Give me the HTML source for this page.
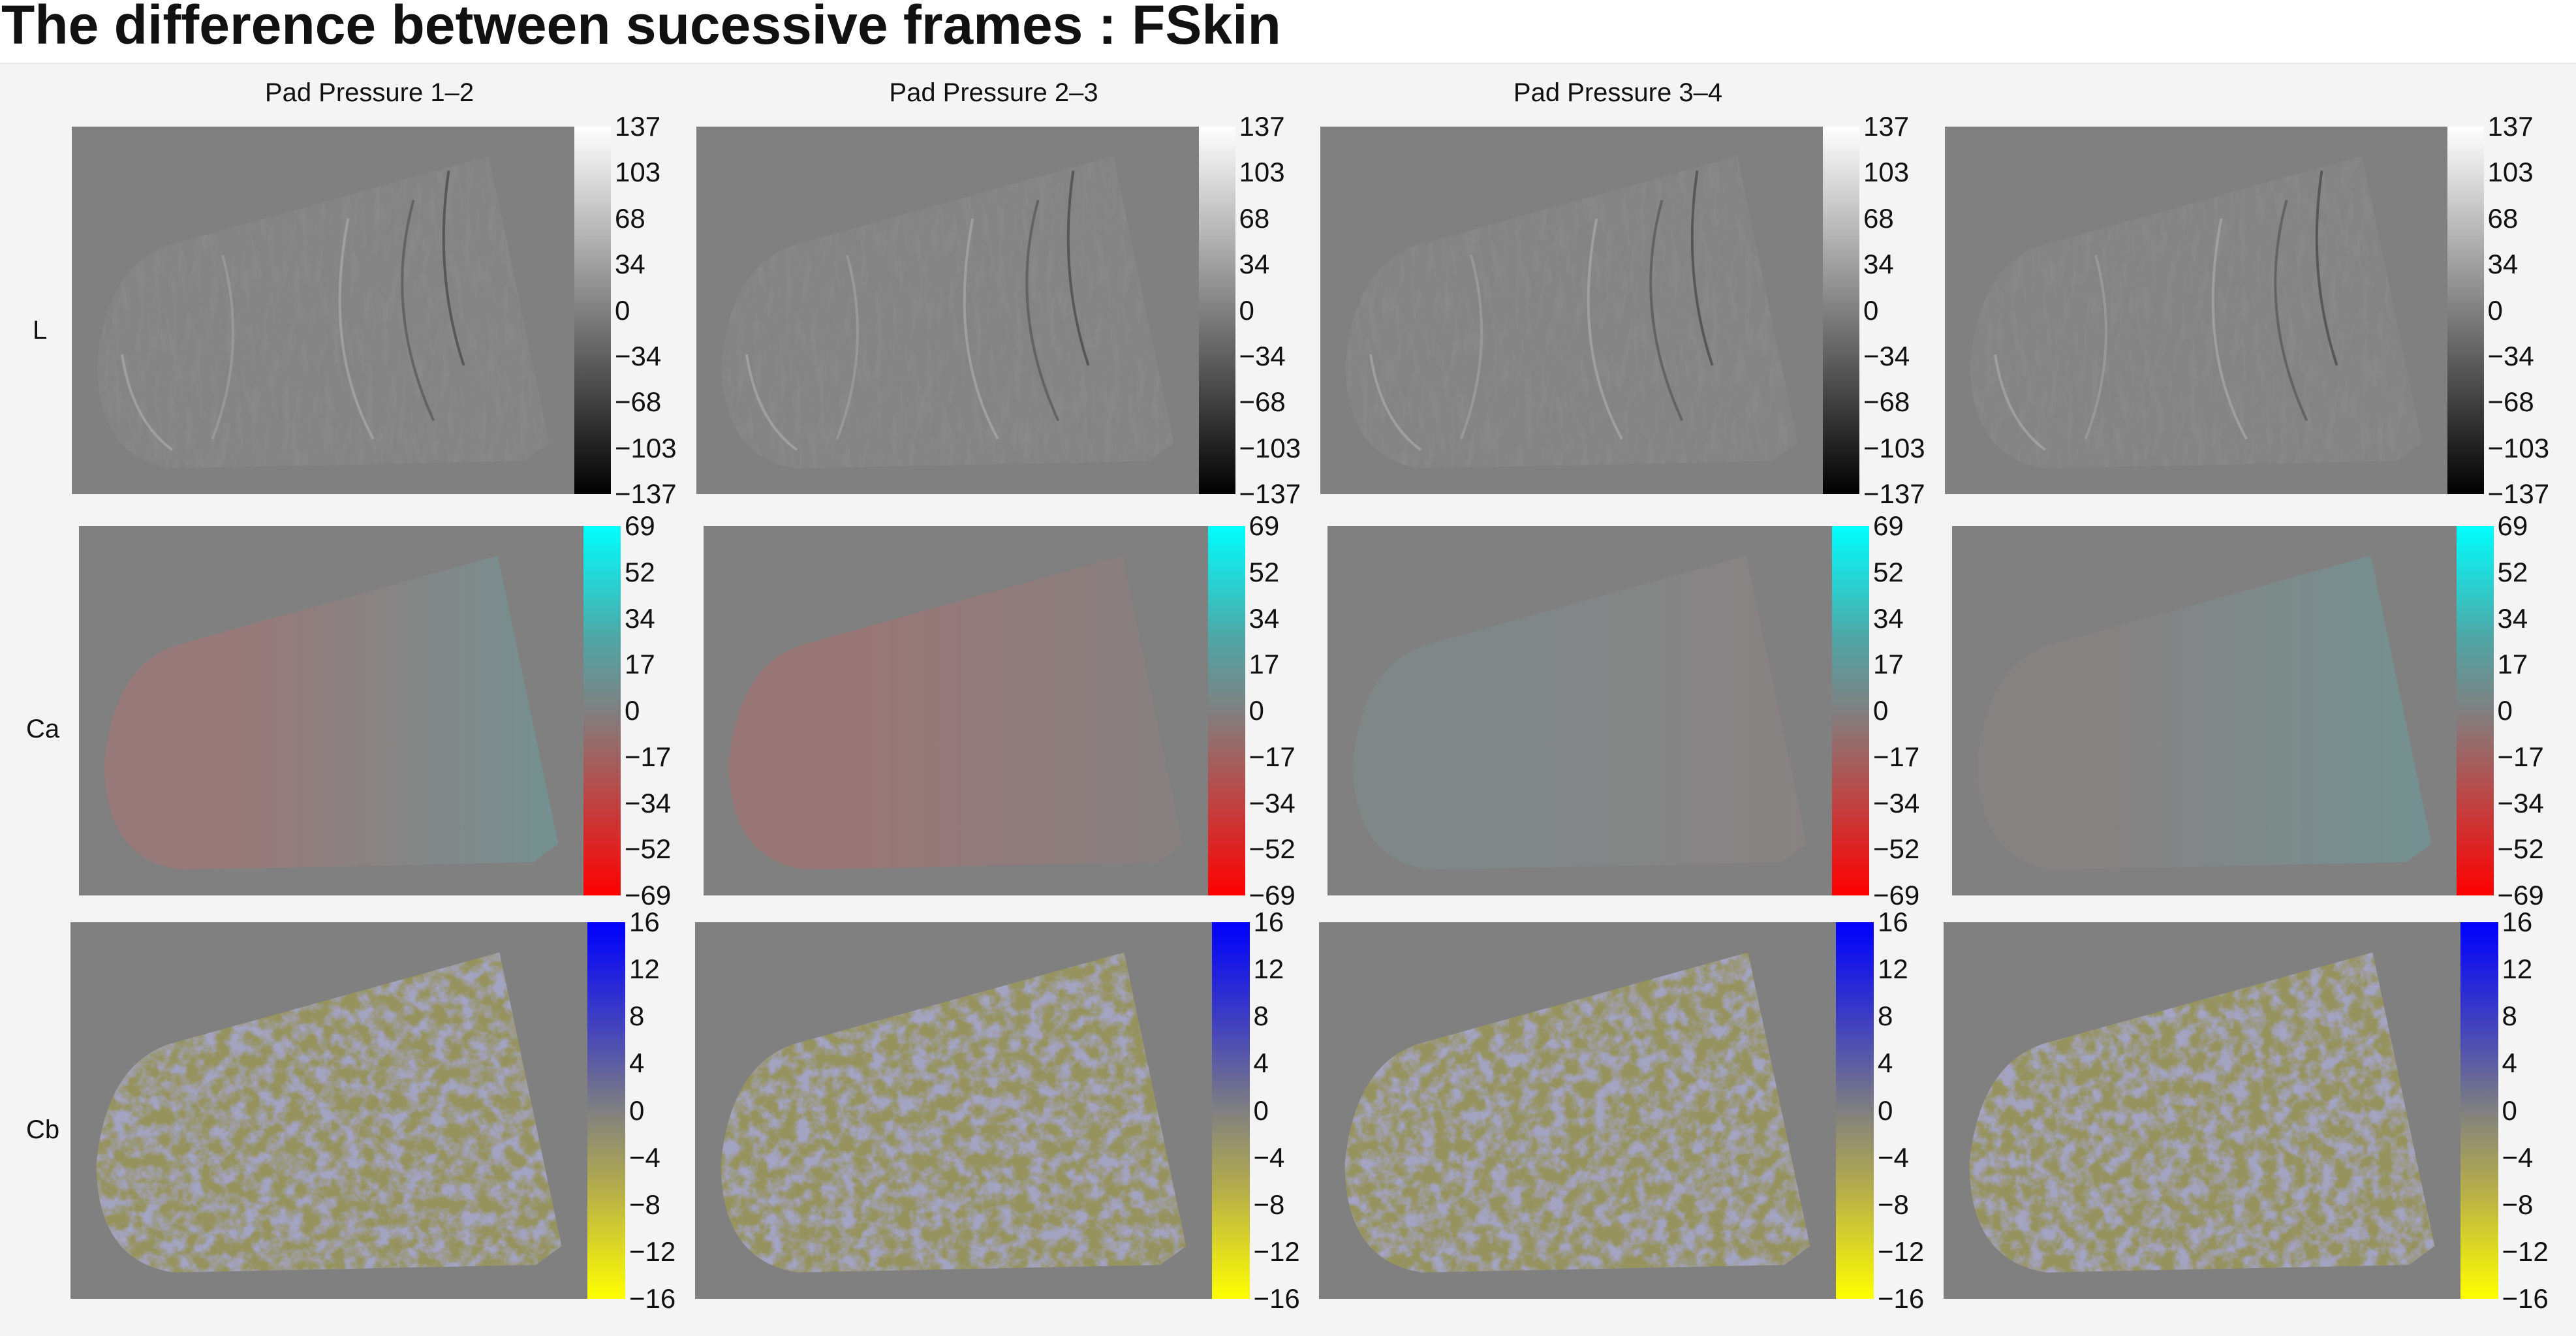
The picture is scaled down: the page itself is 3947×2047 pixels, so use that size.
<!DOCTYPE html>
<html><head><meta charset="utf-8">
<style>
html,body{margin:0;padding:0;}
body{width:3947px;height:2045px;position:relative;background:#fff;overflow:hidden;font-family:"Liberation Sans",sans-serif;}
#title{position:absolute;left:2px;top:-10px;font-size:84px;font-weight:bold;color:#111;white-space:nowrap;}
#bg{position:absolute;left:0;top:96px;width:3947px;height:1949px;background:#f4f4f4;border-top:2px solid #e8e8e8;}
.ct{position:absolute;font-size:40px;color:#111;transform:translateX(-50%);white-space:nowrap;}
.rl{position:absolute;font-size:40px;color:#111;}
.tk{position:absolute;font-size:42px;color:#111;line-height:42px;white-space:nowrap;}
svg{position:absolute;}
.cb{position:absolute;}
</style></head>
<body>
<div id="title">The difference between sucessive frames : FSkin</div>
<div id="bg"></div>
<div id="root"></div>
<script>
const colTitles = ["Pad Pressure 1\u20132","Pad Pressure 2\u20133","Pad Pressure 3\u20134",""];
const rowLabels = ["L","Ca","Cb"];
const ticksL = ["137","103","68","34","0","\u221234","\u221268","\u2212103","\u2212137"];
const ticksCa = ["69","52","34","17","0","\u221217","\u221234","\u221252","\u221269"];
const ticksCb = ["16","12","8","4","0","\u22124","\u22128","\u221212","\u221216"];

const root = document.getElementById('root');
const pitch = 956.5;
const rows = [
  {top:194,bot:757,left:110,right:880,cbw:56,ticks:ticksL,grad:"linear-gradient(#fff,#808080,#000)",ly:506},
  {top:806,bot:1372,left:121,right:894,cbw:57,ticks:ticksCa,grad:"linear-gradient(#00ffff,#4fa6a6 30%,#808080 50%,#b84a4a 72%,#ff0000)",ly:1117},
  {top:1413,bot:1990,left:108,right:900,cbw:58,ticks:ticksCb,grad:"linear-gradient(#0000ff,#4848b8 30%,#808080 50%,#b8b048 72%,#ffff00)",ly:1731}
];
const caGrad = [["#a87474","#6c9c9c"],["#a87070","#8a8080"],["#7f8c8c","#8f8484"],["#8a8484","#6c9c9c"]];

colTitles.forEach((t,c)=>{
  const d=document.createElement('div');d.className='ct';d.textContent=t;
  d.style.left=(566+c*pitch)+'px';d.style.top='120px';
  
  
  root.appendChild(d);
});
rows.forEach((r,ri)=>{
  const l=document.createElement('div');l.className='rl';l.textContent=rowLabels[ri];
  l.style.left=(ri==0?50:40)+'px';l.style.top=(r.ly-22)+'px';
  
  
  root.appendChild(l);
  for(let c=0;c<4;c++){
    const x0=r.left+c*pitch, W=r.right-r.left, H=r.bot-r.top;
    const ns='http://www.w3.org/2000/svg';
    const s=document.createElementNS(ns,'svg');
    s.setAttribute('width',W);s.setAttribute('height',H);
    s.style.left=x0+'px';s.style.top=r.top+'px';
    
    
    const P=(x,y)=>(x*W).toFixed(1)+','+(y*H).toFixed(1);
    const path='M'+P(0.83,0.08)+' L'+P(0.95,0.86)+' L'+P(0.9,0.91)+' L'+P(0.2,0.93)+' Q'+P(0.05,0.9)+' '+P(0.05,0.64)+' Q'+P(0.07,0.37)+' '+P(0.2,0.32)+' Z';
    const id='f'+ri+'_'+c;
    let inner='<rect width="'+W+'" height="'+H+'" fill="#808080"/>';
    if(ri==0){
      inner+='<defs><filter id="'+id+'" x="0" y="0" width="1" height="1"><feTurbulence type="fractalNoise" baseFrequency="0.08 0.02" numOctaves="3" seed="'+(c+3)+'"/><feColorMatrix type="matrix" values="0 0 0 0 0.5 0 0 0 0 0.5 0 0 0 0 0.5 0 0 0 1.2 -0.5"/><feComposite in2="SourceGraphic" operator="in"/></filter></defs>';
      inner+='<path d="'+path+'" fill="#848484"/><path d="'+path+'" fill="#000" filter="url(#'+id+')" opacity="0.2"/>';
      const lines=[[0.55,0.25,0.5,0.6,0.6,0.85,'#aaa'],[0.68,0.2,0.62,0.5,0.72,0.8,'#555'],[0.75,0.12,0.72,0.4,0.78,0.65,'#444'],[0.3,0.35,0.35,0.6,0.28,0.85,'#a0a0a0'],[0.1,0.62,0.12,0.8,0.2,0.88,'#aaa']];
      lines.forEach(L=>{inner+='<path d="M'+P(L[0],L[1])+' Q'+P(L[2],L[3])+' '+P(L[4],L[5])+'" fill="none" stroke="'+L[6]+'" stroke-width="4" opacity="0.7"/>';});
    } else if(ri==1){
      inner+='<defs><linearGradient id="g'+id+'" x1="0" x2="1" y1="0" y2="0"><stop offset="0.3" stop-color="'+caGrad[c][0]+'"/><stop offset="1" stop-color="'+caGrad[c][1]+'"/></linearGradient></defs>';
      inner+='<path d="'+path+'" fill="url(#g'+id+')" opacity="0.6"/>';
    } else {
      inner+='<defs><filter id="'+id+'" x="0" y="0" width="1" height="1"><feTurbulence type="fractalNoise" baseFrequency="0.045" numOctaves="4" seed="'+(c+7)+'"/><feColorMatrix type="matrix" values="0 0 0 0 0.38 0 0 0 0 0.38 0 0 0 0 0.66 3 0 0 0 -1.1"/><feComposite in2="SourceGraphic" operator="in"/></filter></defs>';
      inner+='<path d="'+path+'" fill="#96935f"/><path d="'+path+'" fill="#000" filter="url(#'+id+')" opacity="0.85"/>';
    }
    s.innerHTML=inner;
    root.appendChild(s);
    const cb=document.createElement('div');cb.className='cb';
    cb.style.left=r.right+c*pitch+'px';cb.style.top=r.top+'px';cb.style.width=r.cbw+'px';cb.style.height=H+'px';cb.style.background=r.grad;
    
    
    root.appendChild(cb);
    r.ticks.forEach((t,i)=>{
      const d=document.createElement('div');d.className='tk';d.textContent=t;
      d.style.left=(r.right+c*pitch+r.cbw+6)+'px';
      d.style.top=(r.top+i*H/(r.ticks.length-1)-21)+'px';
      
      
      root.appendChild(d);
    });
  }
});
</script>
</body></html>
